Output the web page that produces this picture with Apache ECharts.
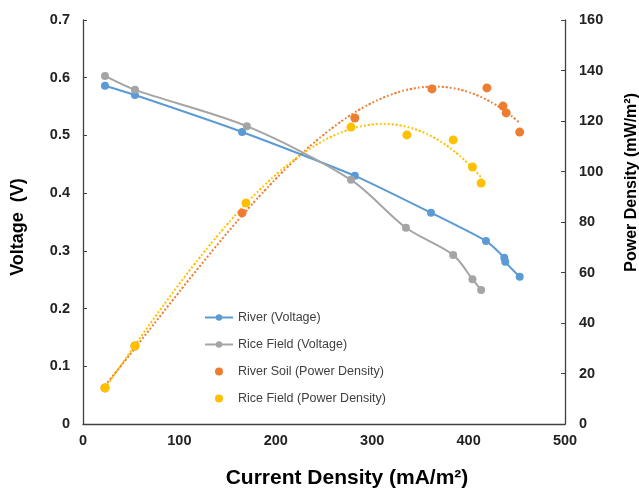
<!DOCTYPE html>
<html><head><meta charset="utf-8">
<script src="https://cdn.jsdelivr.net/npm/echarts@6/dist/echarts.min.js"></script>
<style>html,body{margin:0;padding:0;background:#fff}#c{width:639px;height:489px}</style>
</head><body><div id="c"></div>
<script>
// River (Voltage)
var riverX = [22.8, 53.9, 165, 282, 361, 418, 437, 438, 453];
var riverV = [0.586, 0.570, 0.506, 0.430, 0.366, 0.317, 0.288, 0.281, 0.255];
// Rice Field (Voltage)
var riceX = [22.8, 53.9, 170, 278, 335, 384, 404, 413];
var riceV = [0.603, 0.579, 0.516, 0.423, 0.340, 0.293, 0.251, 0.232];
// River Soil (Power Density)
var soilPX = [22.8, 53.9, 165, 282, 362, 419, 435.7, 439, 453];
var soilP = [14.3, 30.9, 83.6, 121.2, 132.7, 133.1, 125.9, 123.2, 115.6];
// Rice Field (Power Density)
var ricePX = [22.8, 53.9, 169, 278, 336, 384, 404, 413];
var riceP = [14.3, 30.9, 87.5, 117.6, 114.5, 112.5, 101.8, 95.4];

var leftTicks = [0, 0.1, 0.2, 0.3, 0.4, 0.5, 0.6, 0.7];
var rightTicks = [0, 20, 40, 60, 80, 100, 120, 140, 160];
var xTicks = [0, 100, 200, 300, 400, 500];

function zip(a, b) { return a.map(function (v, i) { return [v, b[i]]; }); }

// least squares polynomial fit (trendline, as in the source chart)
function polyfit(xs, ys, order) {
  var n = order + 1, A = [], i, j, k;
  var sx = 100; // scale for numerical stability
  for (i = 0; i < n; i++) { A.push([]); for (j = 0; j <= n; j++) A[i].push(0); }
  for (k = 0; k < xs.length; k++) {
    var xk = xs[k] / sx;
    for (i = 0; i < n; i++) {
      for (j = 0; j < n; j++) A[i][j] += Math.pow(xk, i + j);
      A[i][n] += ys[k] * Math.pow(xk, i);
    }
  }
  for (i = 0; i < n; i++) {
    var p = i;
    for (j = i + 1; j < n; j++) if (Math.abs(A[j][i]) > Math.abs(A[p][i])) p = j;
    var t = A[i]; A[i] = A[p]; A[p] = t;
    for (j = i + 1; j < n; j++) {
      var f = A[j][i] / A[i][i];
      for (k = i; k <= n; k++) A[j][k] -= f * A[i][k];
    }
  }
  var c = new Array(n);
  for (i = n - 1; i >= 0; i--) {
    var s = A[i][n];
    for (j = i + 1; j < n; j++) s -= A[i][j] * c[j];
    c[i] = s / A[i][i];
  }
  return { c: c, sx: sx };
}
function trend(xs, ys, order) {
  var fit = polyfit(xs, ys, order), c = fit.c, out = [];
  var x0 = Math.min.apply(null, xs), x1 = Math.max.apply(null, xs), N = 80;
  for (var i = 0; i <= N; i++) {
    var x = x0 + (x1 - x0) * i / N, y = 0;
    for (var j = 0; j < c.length; j++) y += c[j] * Math.pow(x / fit.sx, j);
    out.push([x, y]);
  }
  return out;
}

var font = 'Liberation Sans, Arial, sans-serif';
var axisCol = '#404040';
var chart = echarts.init(document.getElementById('c'), null, { renderer: 'canvas' });
chart.setOption({
  animation: false,
  backgroundColor: '#fff',
  grid: { left: 83, right: 74, top: 20, bottom: 65, containLabel: false, outerBoundsMode: 'none' },
  legend: {
    orient: 'vertical', left: 199, top: 305, itemWidth: 28, itemHeight: 8, itemGap: 12,
    textStyle: { fontFamily: font, fontSize: 12.5, color: '#404040', lineHeight: 15 },
    data: ['River (Voltage)', 'Rice Field (Voltage)', 'River Soil (Power Density)', 'Rice Field (Power Density)']
  },
  xAxis: {
    type: 'value', min: 0, max: 500, interval: 100,
    name: 'Current Density (mA/m²)', nameLocation: 'middle', nameGap: 44,
    nameTextStyle: { fontFamily: font, fontSize: 21, fontWeight: 'bold', color: '#000', padding: [0, 0, 0, 46] },
    axisLine: { show: true, lineStyle: { color: axisCol, width: 1.3 } },
    axisTick: { show: false },
    splitLine: { show: false },
    axisLabel: { fontFamily: font, fontSize: 14.5, fontWeight: 'bold', color: '#222', margin: 9,
      formatter: function (v) { return xTicks.indexOf(v) >= 0 ? String(v) : ''; } }
  },
  yAxis: [{
    type: 'value', min: 0, max: 0.7, interval: 0.1, position: 'left',
    name: 'Voltage  (V)', nameLocation: 'middle', nameGap: 56, nameRotate: 90,
    nameTextStyle: { fontFamily: font, fontSize: 18, fontWeight: 'bold', color: '#000', padding: [0, 10, 0, 0] },
    axisLine: { show: true, lineStyle: { color: axisCol, width: 1.3 } },
    axisTick: { show: true, inside: true, length: 4, lineStyle: { color: axisCol } },
    splitLine: { show: false },
    axisLabel: { fontFamily: font, fontSize: 14.5, fontWeight: 'bold', color: '#222', margin: 13,
      formatter: function (v) { var r = Math.round(v * 10) / 10; return leftTicks.indexOf(r) >= 0 ? String(r) : ''; } }
  }, {
    type: 'value', min: 0, max: 160, interval: 20, position: 'right',
    axisLine: { show: true, lineStyle: { color: axisCol, width: 1.3 } },
    axisTick: { show: true, inside: true, length: 4, lineStyle: { color: axisCol } },
    splitLine: { show: false },
    axisLabel: { fontFamily: font, fontSize: 14.5, fontWeight: 'bold', color: '#222', margin: 14,
      formatter: function (v) { return rightTicks.indexOf(v) >= 0 ? String(v) : ''; } }
  }],
  graphic: [{
    type: 'text', left: 624, top: 93, rotation: Math.PI / 2,
    style: { text: 'Power Density (mW/m²)', font: 'bold 16px ' + font, fill: '#000' }
  }],
  series: [
    { name: 'River Soil (Power Density) trend', type: 'line', yAxisIndex: 1, data: trend(soilPX, soilP, 3),
      showSymbol: false, smooth: true, lineStyle: { color: '#ED7D31', width: 2, type: [2, 2] }, silent: true, z: 1 },
    { name: 'Rice Field (Power Density) trend', type: 'line', yAxisIndex: 1, data: trend(ricePX, riceP, 3),
      showSymbol: false, smooth: true, lineStyle: { color: '#FFC000', width: 2, type: [2, 2] }, silent: true, z: 1 },
    { name: 'River (Voltage)', type: 'line', yAxisIndex: 0, data: zip(riverX, riverV), smooth: 0.2,
      symbol: 'circle', symbolSize: 8, itemStyle: { color: '#5B9BD5' }, lineStyle: { color: '#5B9BD5', width: 2 }, z: 3 },
    { name: 'Rice Field (Voltage)', type: 'line', yAxisIndex: 0, data: zip(riceX, riceV), smooth: 0.3,
      symbol: 'circle', symbolSize: 8, itemStyle: { color: '#A5A5A5' }, lineStyle: { color: '#A5A5A5', width: 2 }, z: 3 },
    { name: 'River Soil (Power Density)', type: 'scatter', yAxisIndex: 1, data: zip(soilPX, soilP),
      symbol: 'circle', symbolSize: 9, itemStyle: { color: '#ED7D31', opacity: 1 }, z: 4 },
    { name: 'Rice Field (Power Density)', type: 'scatter', yAxisIndex: 1, data: zip(ricePX, riceP),
      symbol: 'circle', symbolSize: 9, itemStyle: { color: '#FFC000', opacity: 1 }, z: 4 }
  ]
});
</script></body></html>
